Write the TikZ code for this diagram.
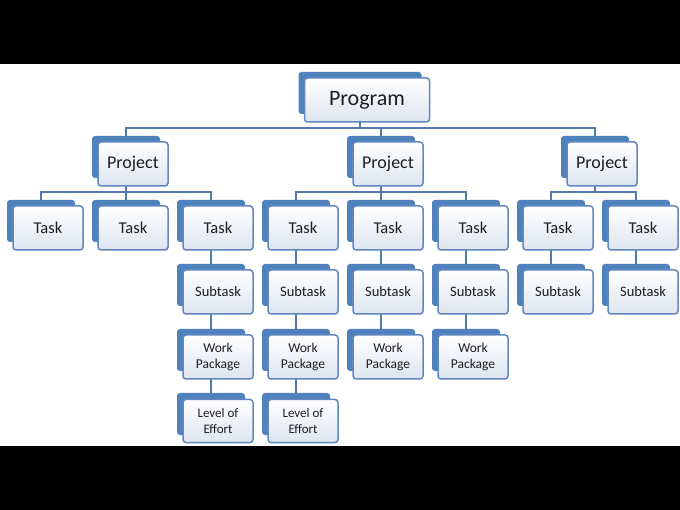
\documentclass[tikz,border=0pt]{standalone}
\usepackage{fontspec}
\setmainfont{Carlito}
\usepackage{tikz}
\usetikzlibrary{backgrounds}
\definecolor{cardblue}{RGB}{79, 129, 189}
\definecolor{cardedge}{RGB}{96, 136, 190}
\definecolor{cardfill}{RGB}{222, 229, 240}
\definecolor{cardtext}{RGB}{30, 30, 30}
\definecolor{linkblue}{RGB}{84, 122, 172}
\tikzset{
    backcard/.style={fill=cardblue, rounded corners=3pt, minimum height=42pt, inner sep=0pt},
    frontcard/.style={draw=cardedge, line width=1.5pt, rounded corners=3pt, top color=white,
        bottom color=cardfill, minimum height=44pt, inner sep=0pt, align=center, text=cardtext},
    link/.style={draw=linkblue, line width=2pt}
}

\begin{document}
\begin{tikzpicture}[x=1pt, y=-1pt]
        % Screen frame
        \begin{scope}[on background layer]
            \fill[black] (0,0) rectangle (680,510);
            \fill[white] (0,64) rectangle (680,446);
        \end{scope}

        % Program
        \node[backcard, minimum width=123pt] (b-pg) at (360,93) {};
        \node[frontcard, minimum width=125pt, font=\fontsize{22}{24}\selectfont] (pg) at (367,100) {Program};

        % Projects
        \foreach \n/\x in {pj1/133, pj2/388, pj3/602} {
            \node[backcard, minimum width=68pt] (b-\n) at ({\x-7},157) {};
            \node[frontcard, minimum width=70pt, font=\fontsize{18}{20}\selectfont] (\n) at (\x,164) {Project};
        }

        % Tasks
        \foreach \i in {1,...,8} {
            \node[backcard, minimum width=68pt] (b-t\i) at ({41+85*(\i-1)},221) {};
            \node[frontcard, minimum width=70pt, font=\fontsize{16.5}{18}\selectfont] (t\i) at ({48+85*(\i-1)},228) {Task};
        }

        % Subtasks
        \foreach \i in {3,...,8} {
            \node[backcard, minimum width=68pt] (b-s\i) at ({41+85*(\i-1)},285) {};
            \node[frontcard, minimum width=70pt, font=\fontsize{14.5}{16}\selectfont] (s\i) at ({48+85*(\i-1)},292) {Subtask};
        }

        % Work packages
        \foreach \i in {3,...,6} {
            \node[backcard, minimum width=68pt] (b-w\i) at ({41+85*(\i-1)},350) {};
            \node[frontcard, minimum width=70pt, font=\fontsize{13.5}{15.5}\selectfont] (w\i) at ({48+85*(\i-1)},357) {Work\\Package};
        }

        % Level of effort
        \foreach \i in {3,4} {
            \node[backcard, minimum width=68pt] (b-l\i) at ({41+85*(\i-1)},414) {};
            \node[frontcard, minimum width=70pt, minimum height=43pt, font=\fontsize{13}{15.5}\selectfont] (l\i) at ({48+85*(\i-1)},421) {Level of\\Effort};
        }

        % Links
        \begin{scope}[on background layer]
            \foreach \c in {pj1,pj2,pj3}
                \draw[link] (b-pg.center) -- ++(0,35) -| (b-\c.center);
            \foreach \c in {t1,t2,t3}
                \draw[link] (b-pj1.center) -- ++(0,35) -| (b-\c.center);
            \foreach \c in {t4,t5,t6}
                \draw[link] (b-pj2.center) -- ++(0,35) -| (b-\c.center);
            \foreach \c in {t7,t8}
                \draw[link] (b-pj3.center) -- ++(0,35) -| (b-\c.center);
            \foreach \i in {3,...,8}
                \draw[link] (b-t\i.center) -- (b-s\i.center);
            \foreach \i in {3,...,6}
                \draw[link] (b-s\i.center) -- (b-w\i.center);
            \foreach \i in {3,4}
                \draw[link] (b-w\i.center) -- (b-l\i.center);
        \end{scope}
    \end{tikzpicture}
\end{document}
